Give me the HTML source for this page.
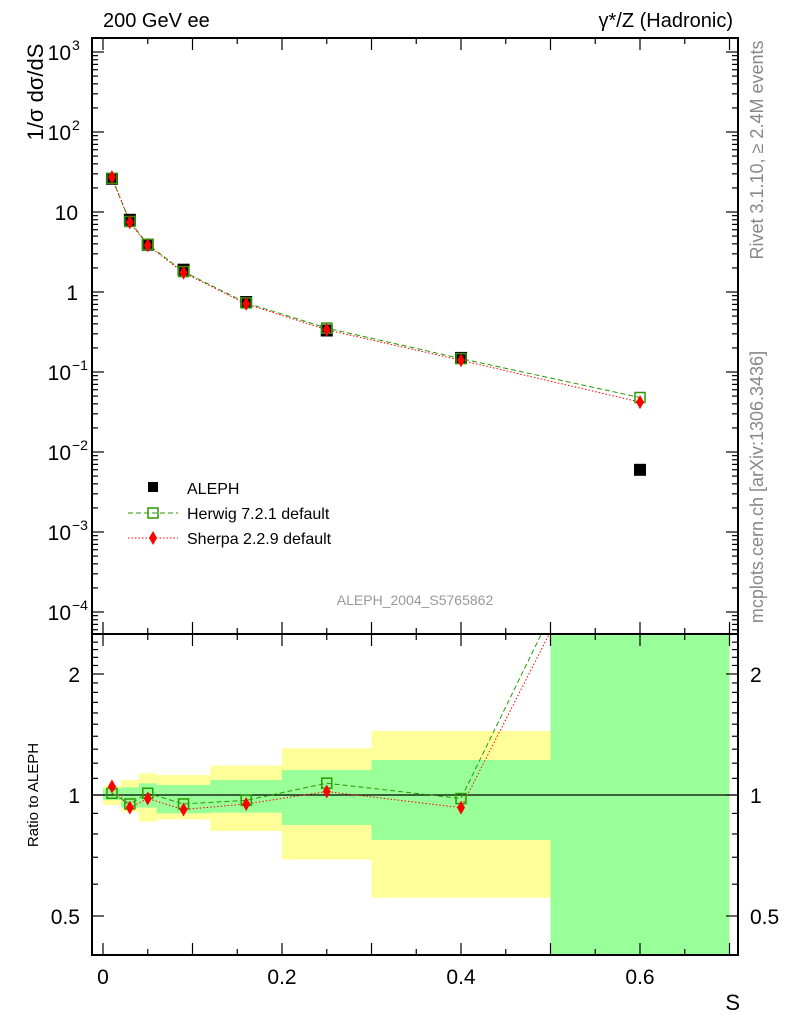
<!DOCTYPE html>
<html><head><meta charset="utf-8"><style>
body{margin:0;background:#fff}
svg{display:block;font-family:"Liberation Sans",sans-serif}
</style></head><body>
<svg id="s" width="786" height="1024" xmlns="http://www.w3.org/2000/svg">
<defs><clipPath id="rc"><rect x="92" y="634" width="646" height="321"/></clipPath></defs>
<g id="bands" clip-path="url(#rc)"></g>
<line x1="92" y1="795" x2="738" y2="795" stroke="#000" stroke-width="1.3"/>
<g id="curves"></g>
<rect x="92" y="38" width="646" height="596" fill="none" stroke="#000" stroke-width="2"/>
<rect x="92" y="634" width="646" height="321" fill="none" stroke="#000" stroke-width="2"/>
<g id="ticks" stroke="#000" stroke-width="1.2"></g>
<text x="103" y="27" font-size="20">200 GeV ee</text>
<text x="733" y="27" font-size="20" text-anchor="end">γ*/Z (Hadronic)</text>
<text transform="translate(43,92) rotate(-90)" font-size="22" text-anchor="middle">1/σ  dσ/dS</text>
<text transform="translate(763,150) rotate(-90)" font-size="18" fill="#888" text-anchor="middle">Rivet 3.1.10, ≥ 2.4M events</text>
<text transform="translate(763,487) rotate(-90)" font-size="18" fill="#888" text-anchor="middle">mcplots.cern.ch [arXiv:1306.3436]</text>
<text x="415" y="605" font-size="14" fill="#999" text-anchor="middle">ALEPH_2004_S5765862</text>
<text transform="translate(38,795) rotate(-90)" font-size="15" text-anchor="middle">Ratio to ALEPH</text>
<text x="740" y="1010" font-size="22" text-anchor="end">S</text>
<g font-size="20">
<rect x="148" y="482" width="10" height="10" fill="#000"/>
<text x="187" y="494" font-size="16">ALEPH</text>
<line x1="128" y1="513" x2="178" y2="513" stroke="#2a9a00" stroke-dasharray="5,3"/>
<rect x="148" y="508" width="10" height="10" fill="none" stroke="#2a9a00" stroke-width="1.5"/>
<text x="187" y="519" font-size="16">Herwig 7.2.1 default</text>
<line x1="128" y1="538" x2="178" y2="538" stroke="#f00" stroke-dasharray="1.5,2"/>
<path d="M153,531 L157,538 L153,545 L149,538Z" fill="#f00"/>
<text x="187" y="544" font-size="16">Sherpa 2.2.9 default</text>
</g>
</svg>
<script>
const NS="http://www.w3.org/2000/svg";
function el(p,t,a,txt){const e=document.createElementNS(NS,t);for(const k in a)e.setAttribute(k,a[k]);if(txt!==undefined)e.textContent=txt;document.getElementById(p).appendChild(e);return e;}
const X=v=>103+895*v, RY=r=>795-402*Math.log10(r), MY=v=>292-80*Math.log10(v);
const edges=[0,0.02,0.04,0.06,0.12,0.2,0.3,0.5,0.7];
const yb=[[498,555],[480,575],[460,605],[465,598],[437,633],[385,718],[333,833],[0,1300]];
const gb=[[505,540],[502,562],[490,563],[495,580],[480,578],[450,615],[420,660],[0,1300]];
for(let i=0;i<8;i++){
 const x1=X(edges[i]),x2=X(edges[i+1]);
 el("bands","rect",{x:x1,y:620+yb[i][0]/3,width:x2-x1,height:(yb[i][1]-yb[i][0])/3,fill:"#ffff99"});
 el("bands","rect",{x:x1,y:620+gb[i][0]/3,width:x2-x1,height:(gb[i][1]-gb[i][0])/3,fill:"#99ff99"});
}
const xs=[0.01,0.03,0.05,0.09,0.16,0.25,0.4,0.6].map(X);
const al=[178.8,219.8,244.7,269.7,302,330.5,357.9,469.8];
const hw=[178.4,221.5,244.4,271.6,302.9,328.1,358.6,397.5];
const sh=[177.1,222.3,245.4,272.6,303.9,329.8,360.3,402.1];
const hr=[1.01,0.95,1.01,0.95,0.97,1.07,0.98,8].map(RY);
const sr=[1.05,0.93,0.98,0.92,0.95,1.02,0.93,7].map(RY);
function pts(ys,n){return xs.slice(0,n).map((x,i)=>x+","+ys[i]).join(" ");}
el("curves","polyline",{points:pts(hw,8),fill:"none",stroke:"#2a9a00","stroke-dasharray":"5,3"});
el("curves","polyline",{points:pts(sh,8),fill:"none",stroke:"#f00","stroke-dasharray":"1.5,2"});
const g=el("curves","g",{"clip-path":"url(#rc)"});g.id="rcg";
el("rcg","polyline",{points:pts(hr,8),fill:"none",stroke:"#2a9a00","stroke-dasharray":"5,3"});
el("rcg","polyline",{points:pts(sr,8),fill:"none",stroke:"#f00","stroke-dasharray":"1.5,2"});
function sq(x,y){el("curves","rect",{x:x-5,y:y-5,width:10,height:10,fill:"none",stroke:"#2a9a00","stroke-width":1.5});}
function dm(x,y){el("curves","path",{d:`M${x},${y-7} L${x+4},${y} L${x},${y+7} L${x-4},${y}Z`,fill:"#f00"});}
for(let i=0;i<8;i++){
 el("curves","rect",{x:xs[i]-6,y:al[i]-6,width:12,height:12,fill:"#000"});
 sq(xs[i],hw[i]);dm(xs[i],sh[i]);
 if(i<7){sq(xs[i],hr[i]);dm(xs[i],sr[i]);}
}
function L(x1,y1,x2,y2){el("ticks","line",{x1,y1,x2,y2});}
for(let k=0;k<=14;k++){const x=X(k*0.05);if(x>737)break;const len=k%2?6:12;
 L(x,38,x,38+len);L(x,634,x,634-len);L(x,634,x,634+len);L(x,955,x,955-len);
 if(k%4==0)el("s","text",{x:x,y:984,"font-size":21,"text-anchor":"middle"},k==0?"0":(k*0.05).toFixed(1));}
for(let d=-5;d<=3;d++)for(let m=1;m<10;m++){const y=MY(m*Math.pow(10,d));if(y<39||y>633)continue;const len=m==1?12:6;
 L(92,y,92+len,y);L(738,y,738-len,y);}
const ml=[[3,"10","3"],[2,"10","2"],[1,"10",""],[0,"1",""],[-1,"10","−1"],[-2,"10","−2"],[-3,"10","−3"],[-4,"10","−4"]];
for(const [d,b,e] of ml){const y=MY(Math.pow(10,d));
 el("s","text",{x:e?71:78,y:y+8,"font-size":21,"text-anchor":"end"},b);
 if(e)el("s","text",{x:72,y:y-2,"font-size":14},e);}
for(let r=0.4;r<=2.5;r+=0.1){const y=RY(r);if(y<635||y>954)continue;const maj=Math.abs(r-0.5)<1e-6||Math.abs(r-1)<1e-6||Math.abs(r-2)<1e-6;const len=maj?12:6;
 L(92,y,92+len,y);L(738,y,738-len,y);}
for(const [r,t] of [[2,"2"],[1,"1"],[0.5,"0.5"]]){const y=RY(r);
 el("s","text",{x:80,y:y+8,"font-size":21,"text-anchor":"end"},t);
 el("s","text",{x:750,y:y+8,"font-size":21},t);}
</script>
</body></html>
